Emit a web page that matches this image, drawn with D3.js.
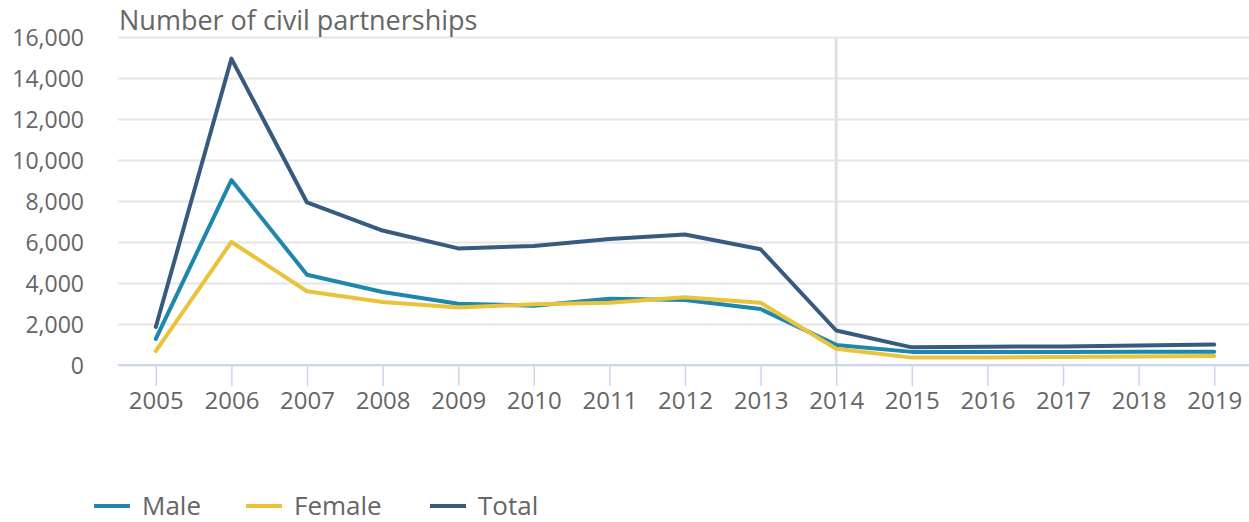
<!DOCTYPE html>
<html>
<head>
<meta charset="utf-8">
<script src="https://d3js.org/d3.v7.min.js"></script>
<style>
  body { margin: 0; background: #fff; }
  text { font-family: "Open Sans", sans-serif; fill: #666; }
</style>
</head>
<body>
<script>
var years = [2005, 2006, 2007, 2008, 2009, 2010, 2011, 2012, 2013, 2014, 2015, 2016, 2017, 2018, 2019];
var male   = [1270, 9020, 4400, 3560, 2990, 2890, 3230, 3170, 2730, 980, 640, 640, 640, 650, 650];
var female = [680, 6000, 3600, 3070, 2800, 2960, 3040, 3300, 3040, 790, 360, 370, 390, 420, 440];
var total  = [1857, 14943, 7929, 6558, 5687, 5804, 6152, 6362, 5646, 1683, 861, 890, 908, 956, 994];
var yTicks = [0, 2000, 4000, 6000, 8000, 10000, 12000, 14000, 16000];
var markerYear = 2014;

var series = [
  {name: "Male", values: male, color: "#1e87ae"},
  {name: "Female", values: female, color: "#e9c43b"},
  {name: "Total", values: total, color: "#365b7f"}
];

var svg = d3.select("body")
    .append("svg")
    .attr("width", 1249)
    .attr("height", 522)
    .style("display", "block");

var margin = {top: 37, left: 118};
var plotRight = 1252, plotBottom = 365;

var x = d3.scalePoint()
    .domain(years)
    .range([margin.left, plotRight])
    .padding(0.5);

var y = d3.scaleLinear()
    .domain([0, 16000])
    .range([plotBottom, margin.top]);

var fmt = d3.format(",d");

// grid + y labels
var yAxis = d3.axisLeft(y)
    .tickValues(yTicks)
    .tickSize(0)
    .tickPadding(0)
    .tickFormat(fmt);

var gy = svg.append("g").attr("transform", "translate(" + margin.left + ",0)");
gy.call(yAxis);
gy.select(".domain").remove();
gy.selectAll(".tick line").remove();
gy.selectAll(".tick").append("line")
    .attr("x1", 0).attr("x2", plotRight - margin.left)
    .attr("stroke", "#e6e6e6").attr("stroke-width", 2);
gy.selectAll(".tick text")
    .attr("x", -34)
    .attr("dy", "0.35em")
    .style("font-size", "23px")
    .style("fill", "#666")
    .style("font-family", "'Open Sans', sans-serif");

// vertical marker
svg.append("line")
    .attr("x1", x(markerYear)).attr("x2", x(markerYear))
    .attr("y1", y(16000)).attr("y2", plotBottom)
    .attr("stroke", "#e0e0e0").attr("stroke-width", 3);

// x axis
var xAxis = d3.axisBottom(x).tickSize(21).tickPadding(4);
var gx = svg.append("g").attr("transform", "translate(0," + plotBottom + ")");
gx.call(xAxis);
gx.select(".domain").attr("stroke", "#ccd6eb").attr("stroke-width", 2)
    .attr("d", "M" + margin.left + ",0H" + plotRight);
gx.selectAll(".tick line").attr("stroke", "#ccd6eb").attr("stroke-width", 1.5);
gx.selectAll(".tick text")
    .attr("y", 44)
    .attr("dy", 0)
    .style("font-size", "24px")
    .style("fill", "#666")
    .style("font-family", "'Open Sans', sans-serif");

// lines
var line = d3.line()
    .x(function(d, i) { return x(years[i]); })
    .y(function(d) { return y(d); });

svg.selectAll("path.series")
    .data([series[2], series[0], series[1]])
    .enter()
    .append("path")
    .attr("class", "series")
    .attr("d", function(d) { return line(d.values); })
    .attr("fill", "none")
    .attr("stroke", function(d) { return d.color; })
    .attr("stroke-width", 4)
    .attr("stroke-linejoin", "round")
    .attr("stroke-linecap", "round");

// title
svg.append("text")
    .attr("x", 119)
    .attr("y", 30)
    .text("Number of civil partnerships")
    .style("font-size", "27px");

// legend
var legendX = [94, 246, 430];
var lg = svg.selectAll("g.legend")
    .data(series)
    .enter()
    .append("g")
    .attr("class", "legend")
    .attr("transform", function(d, i) { return "translate(" + legendX[i] + ",506)"; });
lg.append("line")
    .attr("x1", 0).attr("x2", 36)
    .attr("stroke", function(d) { return d.color; })
    .attr("stroke-width", 4);
lg.append("text")
    .attr("x", 48)
    .attr("y", 9)
    .text(function(d) { return d.name; })
    .style("font-size", "26px");
</script>
</body>
</html>
